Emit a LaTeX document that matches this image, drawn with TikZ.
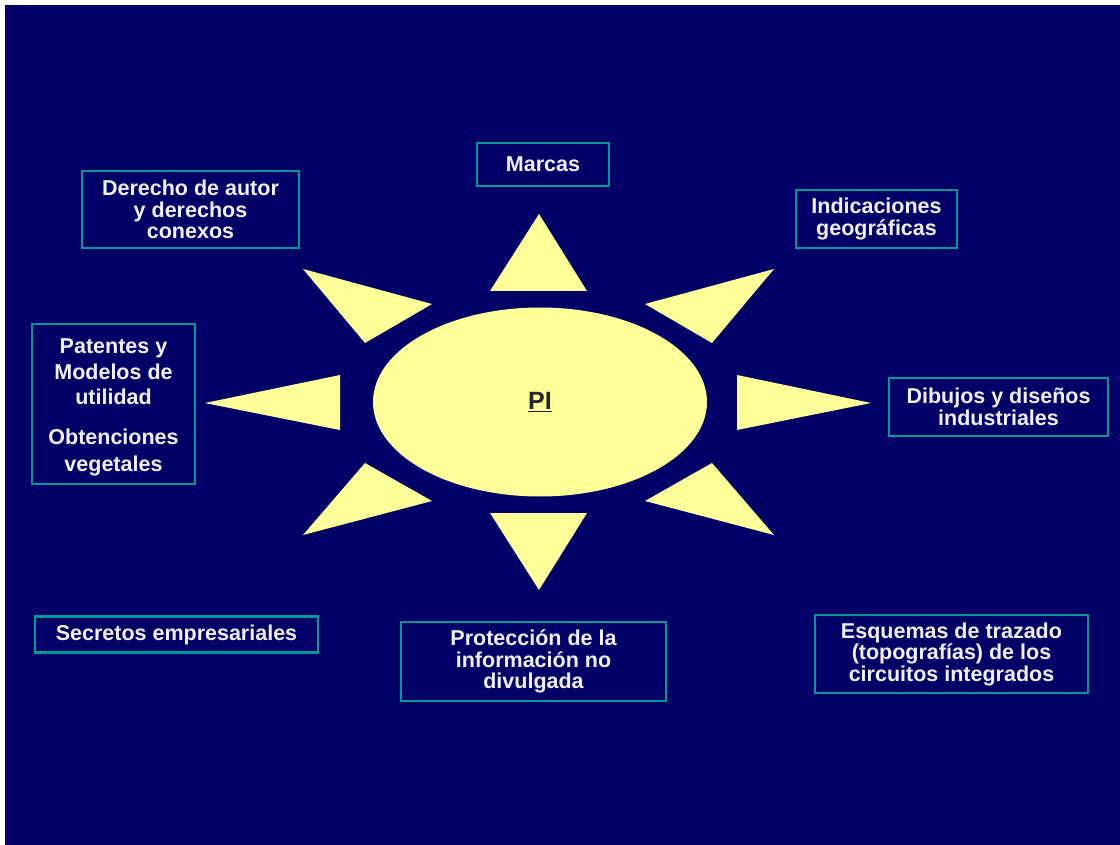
\documentclass[tikz,border=0pt]{standalone}
\usepackage{fontspec}
\setmainfont{Liberation Sans}
\usetikzlibrary{shapes.geometric}
\definecolor{bgnavy}{HTML}{000066}
\definecolor{sunyellow}{HTML}{FFFF99}
\definecolor{boxteal}{HTML}{009999}
\begin{document}
\begin{tikzpicture}[x=1pt,y=-1pt,
  ray/.style={fill=sunyellow},
  ltext/.style={text=white!94!blue, align=center, inner sep=0pt,
    font=\fontsize{21.5}{21.5}\selectfont\bfseries},
  lbox/.style={ltext, draw=boxteal, line width=2.5pt, fill=bgnavy},
]
\useasboundingbox (0,0) rectangle (1120,845);
\fill[white] (0,0) rectangle (1120,845);
\fill[bgnavy] (5,5) rectangle (1120,845);
% sun
\node[ellipse, fill=sunyellow, minimum width=334pt, minimum height=189pt, inner sep=0pt,
  font=\fontsize{25}{26}\selectfont\bfseries, text={black!85}] (pi) at (540,402) {\underline{PI}};
% rays
\fill[ray] (539,214) -- (490,291) -- (587,291) -- cycle;
\fill[ray] (303,269) -- (432,304) -- (365,343) -- cycle;
\fill[ray] (774,269) -- (645,304) -- (712,343) -- cycle;
\fill[ray] (205,403) -- (340,375) -- (340,430) -- cycle;
\fill[ray] (871,403) -- (737,375) -- (737,430) -- cycle;
\fill[ray] (303,535) -- (432,501) -- (365,463) -- cycle;
\fill[ray] (774,535) -- (645,501) -- (712,463) -- cycle;
\fill[ray] (539,590) -- (490,513) -- (587,513) -- cycle;
% boxes
\node[lbox, minimum width=132pt, minimum height=43pt] (marcas) at (543,164.5) {Marcas};
\node[lbox, minimum width=217pt, minimum height=77pt] (autor) at (190.5,209.5)
  {Derecho de autor\\y derechos\\conexos};
\node[lbox, minimum width=161pt, minimum height=58pt] (geo) at (876.5,219)
  {Indicaciones\\geográficas};
\node[lbox, minimum width=163pt, minimum height=160pt] (patentes) at (113.5,404) {};
\node[ltext] (patentestxt) at (113.5,407)
  {Patentes y\\[4.5pt]Modelos de\\[4pt]utilidad\\[18pt]Obtenciones\\[5.5pt]vegetales};
\node[lbox, minimum width=219pt, minimum height=58pt] (dibujos) at (998.5,407)
  {Dibujos y diseños\\industriales};
\node[lbox, minimum width=283pt, minimum height=36pt] (secretos) at (176.5,634.5)
  {Secretos empresariales};
\node[lbox, minimum width=265pt, minimum height=79pt] (proteccion) at (533.5,661.5)
  {Protección de la\\información no\\divulgada};
\node[lbox, minimum width=273pt, minimum height=78pt] (esquemas) at (951.5,654)
  {Esquemas de trazado\\(topografías) de los\\circuitos integrados};
\end{tikzpicture}
\end{document}
